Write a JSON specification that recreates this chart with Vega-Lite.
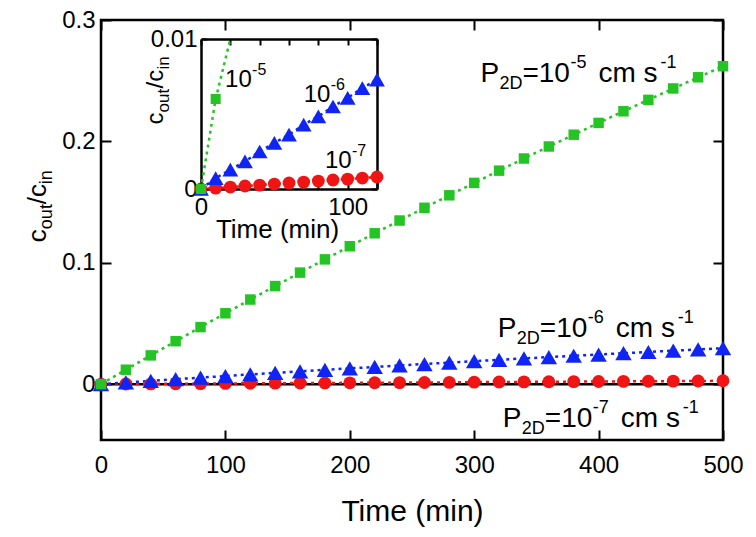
{
  "$schema": "https://vega.github.io/schema/vega-lite/v6.json",
  "width": 622,
  "height": 420,
  "autosize": {"type": "none"},
  "padding": {"left": 101, "top": 20, "right": 33, "bottom": 97},
  "background": "white",
  "config": {
    "view": {"stroke": "black", "strokeWidth": 2.5},
    "font": "Liberation Sans",
    "axis": {"grid": false, "domain": false, "tickColor": "black", "tickWidth": 2, "labelColor": "black", "titleColor": "black", "labelFont": "Liberation Sans", "titleFont": "Liberation Sans", "titleFontWeight": "normal", "domainColor": "black", "domainWidth": 2.5, "labelFlush": false, "labelOverlap": false},
    "text": {"font": "Liberation Sans", "color": "black"}
  },
  "datasets": {
    "main": [
      {"s": "1e-7", "t": 0, "c": 0}, {"s": "1e-7", "t": 20, "c": 0.0001}, {"s": "1e-7", "t": 40, "c": 0.0002}, {"s": "1e-7", "t": 60, "c": 0.0003}, {"s": "1e-7", "t": 80, "c": 0.0004}, {"s": "1e-7", "t": 100, "c": 0.0006}, {"s": "1e-7", "t": 120, "c": 0.0007}, {"s": "1e-7", "t": 140, "c": 0.0008}, {"s": "1e-7", "t": 160, "c": 0.0009}, {"s": "1e-7", "t": 180, "c": 0.001}, {"s": "1e-7", "t": 200, "c": 0.0011}, {"s": "1e-7", "t": 220, "c": 0.0012}, {"s": "1e-7", "t": 240, "c": 0.0013}, {"s": "1e-7", "t": 260, "c": 0.0014}, {"s": "1e-7", "t": 280, "c": 0.0015}, {"s": "1e-7", "t": 300, "c": 0.0017}, {"s": "1e-7", "t": 320, "c": 0.0018}, {"s": "1e-7", "t": 340, "c": 0.0019}, {"s": "1e-7", "t": 360, "c": 0.002}, {"s": "1e-7", "t": 380, "c": 0.0021}, {"s": "1e-7", "t": 400, "c": 0.0022}, {"s": "1e-7", "t": 420, "c": 0.0023}, {"s": "1e-7", "t": 440, "c": 0.0024}, {"s": "1e-7", "t": 460, "c": 0.0025}, {"s": "1e-7", "t": 480, "c": 0.0026}, {"s": "1e-7", "t": 500, "c": 0.0028},
      {"s": "1e-6", "t": 0, "c": 0}, {"s": "1e-6", "t": 20, "c": 0.0014}, {"s": "1e-6", "t": 40, "c": 0.0027}, {"s": "1e-6", "t": 60, "c": 0.0041}, {"s": "1e-6", "t": 80, "c": 0.0054}, {"s": "1e-6", "t": 100, "c": 0.0067}, {"s": "1e-6", "t": 120, "c": 0.008}, {"s": "1e-6", "t": 140, "c": 0.0093}, {"s": "1e-6", "t": 160, "c": 0.0106}, {"s": "1e-6", "t": 180, "c": 0.0118}, {"s": "1e-6", "t": 200, "c": 0.013}, {"s": "1e-6", "t": 220, "c": 0.0142}, {"s": "1e-6", "t": 240, "c": 0.0154}, {"s": "1e-6", "t": 260, "c": 0.0166}, {"s": "1e-6", "t": 280, "c": 0.0178}, {"s": "1e-6", "t": 300, "c": 0.0189}, {"s": "1e-6", "t": 320, "c": 0.0201}, {"s": "1e-6", "t": 340, "c": 0.0212}, {"s": "1e-6", "t": 360, "c": 0.0223}, {"s": "1e-6", "t": 380, "c": 0.0234}, {"s": "1e-6", "t": 400, "c": 0.0244}, {"s": "1e-6", "t": 420, "c": 0.0255}, {"s": "1e-6", "t": 440, "c": 0.0265}, {"s": "1e-6", "t": 460, "c": 0.0276}, {"s": "1e-6", "t": 480, "c": 0.0286}, {"s": "1e-6", "t": 500, "c": 0.0296},
      {"s": "1e-5", "t": 0, "c": 0}, {"s": "1e-5", "t": 20, "c": 0.0119}, {"s": "1e-5", "t": 40, "c": 0.0237}, {"s": "1e-5", "t": 60, "c": 0.0354}, {"s": "1e-5", "t": 80, "c": 0.047}, {"s": "1e-5", "t": 100, "c": 0.0584}, {"s": "1e-5", "t": 120, "c": 0.0697}, {"s": "1e-5", "t": 140, "c": 0.0808}, {"s": "1e-5", "t": 160, "c": 0.0919}, {"s": "1e-5", "t": 180, "c": 0.1028}, {"s": "1e-5", "t": 200, "c": 0.1136}, {"s": "1e-5", "t": 220, "c": 0.1243}, {"s": "1e-5", "t": 240, "c": 0.1348}, {"s": "1e-5", "t": 260, "c": 0.1453}, {"s": "1e-5", "t": 280, "c": 0.1556}, {"s": "1e-5", "t": 300, "c": 0.1658}, {"s": "1e-5", "t": 320, "c": 0.1759}, {"s": "1e-5", "t": 340, "c": 0.1859}, {"s": "1e-5", "t": 360, "c": 0.1958}, {"s": "1e-5", "t": 380, "c": 0.2055}, {"s": "1e-5", "t": 400, "c": 0.2152}, {"s": "1e-5", "t": 420, "c": 0.2248}, {"s": "1e-5", "t": 440, "c": 0.2342}, {"s": "1e-5", "t": 460, "c": 0.2436}, {"s": "1e-5", "t": 480, "c": 0.2528}, {"s": "1e-5", "t": 500, "c": 0.2619}
    ],
    "inset": [
      {"s": "1e-7", "t": 0, "c": 0}, {"s": "1e-7", "t": 10, "c": 0.00006}, {"s": "1e-7", "t": 20, "c": 0.00013}, {"s": "1e-7", "t": 30, "c": 0.0002}, {"s": "1e-7", "t": 40, "c": 0.00026}, {"s": "1e-7", "t": 50, "c": 0.00033}, {"s": "1e-7", "t": 60, "c": 0.0004}, {"s": "1e-7", "t": 70, "c": 0.00046}, {"s": "1e-7", "t": 80, "c": 0.00053}, {"s": "1e-7", "t": 90, "c": 0.0006}, {"s": "1e-7", "t": 100, "c": 0.00066}, {"s": "1e-7", "t": 110, "c": 0.00073}, {"s": "1e-7", "t": 120, "c": 0.0008},
      {"s": "1e-6", "t": 0, "c": 0}, {"s": "1e-6", "t": 10, "c": 0.00073}, {"s": "1e-6", "t": 20, "c": 0.00129}, {"s": "1e-6", "t": 30, "c": 0.00184}, {"s": "1e-6", "t": 40, "c": 0.0025}, {"s": "1e-6", "t": 50, "c": 0.00307}, {"s": "1e-6", "t": 60, "c": 0.00362}, {"s": "1e-6", "t": 70, "c": 0.00429}, {"s": "1e-6", "t": 80, "c": 0.00484}, {"s": "1e-6", "t": 90, "c": 0.0055}, {"s": "1e-6", "t": 100, "c": 0.00607}, {"s": "1e-6", "t": 110, "c": 0.00673}, {"s": "1e-6", "t": 120, "c": 0.00729},
      {"s": "1e-5", "t": 0, "c": 0}, {"s": "1e-5", "t": 10, "c": 0.006}, {"s": "1e-5", "t": 20, "c": 0.0119}
    ],
    "mainAnn": [
      {"t": 305, "c": 0.249, "e": "-5"},
      {"t": 319, "c": 0.039, "e": "-6"},
      {"t": 323, "c": -0.035, "e": "-7"}
    ],
    "insetAnn": [
      {"t": 16.4, "c": 0.0068, "e": "-5"},
      {"t": 70, "c": 0.0058, "e": "-6"},
      {"t": 84.5, "c": 0.0014, "e": "-7"}
    ]
  },
  "layer": [
    {
      "layer": [
        {"data": {"values": [{}]}, "mark": {"type": "rule", "color": "black", "strokeWidth": 2.5}, "encoding": {"y": {"datum": 0, "type": "quantitative", "scale": {"domain": [-0.046, 0.3], "nice": false, "zero": false}, "axis": null}}},
        {"data": {"name": "main"}, "mark": {"type": "line", "strokeDash": [3, 4], "strokeWidth": 2.5},
         "encoding": {
           "x": {"field": "t", "type": "quantitative", "scale": {"domain": [0, 500], "nice": false, "zero": false}, "axis": null},
           "y": {"field": "c", "type": "quantitative", "scale": {"domain": [-0.046, 0.3], "nice": false, "zero": false}, "axis": null},
           "color": {"field": "s", "type": "nominal", "scale": {"domain": ["1e-7", "1e-6", "1e-5"], "range": ["#f01414", "#0f24f5", "#25c425"]}, "legend": null}
         }},
        {"data": {"name": "main"}, "transform": [{"filter": "datum.s == '1e-7'"}], "mark": {"type": "point", "shape": "circle", "size": 165, "filled": true, "opacity": 1, "color": "#f01414"},
         "encoding": {
           "x": {"field": "t", "type": "quantitative", "scale": {"domain": [0, 500], "nice": false, "zero": false},
                 "axis": {"orient": "bottom", "values": [0, 100, 200, 300, 400, 500], "format": "d", "tickSize": -10, "labelPadding": 23, "labelFontSize": 24, "title": "Time (min)", "titleFontSize": 30, "titlePadding": 19}},
           "y": {"field": "c", "type": "quantitative", "scale": {"domain": [-0.046, 0.3], "nice": false, "zero": false},
                 "axis": {"orient": "left", "values": [0, 0.1, 0.2, 0.3], "format": "~g", "tickSize": -10, "labelPadding": 16, "labelFontSize": 24, "title": null}}
         }},
        {"data": {"name": "main"}, "transform": [{"filter": "datum.s == '1e-6'"}], "mark": {"type": "point", "shape": "triangle-up", "size": 270, "filled": true, "opacity": 1, "color": "#0f24f5"},
         "encoding": {
           "x": {"field": "t", "type": "quantitative", "axis": null},
           "y": {"field": "c", "type": "quantitative", "axis": null}
         }},
        {"data": {"name": "main"}, "transform": [{"filter": "datum.s == '1e-5'"}], "mark": {"type": "point", "shape": "square", "size": 110, "filled": true, "opacity": 1, "color": "#25c425"},
         "encoding": {
           "x": {"field": "t", "type": "quantitative", "axis": null},
           "y": {"field": "c", "type": "quantitative", "axis": null}
         }},
        {"data": {"name": "main"}, "mark": {"type": "point", "opacity": 0},
         "encoding": {
           "x": {"field": "t", "type": "quantitative",
                 "axis": {"orient": "top", "values": [0, 100, 200, 300, 400, 500], "tickSize": -10, "labels": false, "title": null}},
           "y": {"field": "c", "type": "quantitative",
                 "axis": {"orient": "right", "values": [0, 0.1, 0.2, 0.3], "tickSize": -10, "labels": false, "title": null}}
         }},
        {"data": {"name": "mainAnn"}, "mark": {"type": "text", "align": "left", "baseline": "alphabetic", "fontSize": 28},
         "encoding": {"x": {"field": "t", "type": "quantitative", "axis": null}, "y": {"field": "c", "type": "quantitative", "axis": null}, "text": {"value": "P"}}},
        {"data": {"name": "mainAnn"}, "mark": {"type": "text", "align": "left", "baseline": "alphabetic", "fontSize": 18, "dx": 19, "dy": 7},
         "encoding": {"x": {"field": "t", "type": "quantitative", "axis": null}, "y": {"field": "c", "type": "quantitative", "axis": null}, "text": {"value": "2D"}}},
        {"data": {"name": "mainAnn"}, "mark": {"type": "text", "align": "left", "baseline": "alphabetic", "fontSize": 28, "dx": 42},
         "encoding": {"x": {"field": "t", "type": "quantitative", "axis": null}, "y": {"field": "c", "type": "quantitative", "axis": null}, "text": {"value": "=10"}}},
        {"data": {"name": "mainAnn"}, "mark": {"type": "text", "align": "left", "baseline": "alphabetic", "fontSize": 18, "dx": 90, "dy": -14},
         "encoding": {"x": {"field": "t", "type": "quantitative", "axis": null}, "y": {"field": "c", "type": "quantitative", "axis": null}, "text": {"field": "e"}}},
        {"data": {"name": "mainAnn"}, "mark": {"type": "text", "align": "left", "baseline": "alphabetic", "fontSize": 28, "dx": 118},
         "encoding": {"x": {"field": "t", "type": "quantitative", "axis": null}, "y": {"field": "c", "type": "quantitative", "axis": null}, "text": {"value": "cm s"}}},
        {"data": {"name": "mainAnn"}, "mark": {"type": "text", "align": "left", "baseline": "alphabetic", "fontSize": 18, "dx": 180, "dy": -14},
         "encoding": {"x": {"field": "t", "type": "quantitative", "axis": null}, "y": {"field": "c", "type": "quantitative", "axis": null}, "text": {"value": "-1"}}},
        {"data": {"values": [{}]}, "mark": {"type": "text", "align": "left", "baseline": "alphabetic", "fontSize": 26, "angle": 270},
         "encoding": {"x": {"datum": -44, "type": "quantitative", "axis": null}, "y": {"datum": 0.117, "type": "quantitative", "axis": null}, "text": {"value": "c"}}},
        {"data": {"values": [{}]}, "mark": {"type": "text", "align": "left", "baseline": "alphabetic", "fontSize": 18, "angle": 270, "dx": 13, "dy": 6},
         "encoding": {"x": {"datum": -44, "type": "quantitative", "axis": null}, "y": {"datum": 0.117, "type": "quantitative", "axis": null}, "text": {"value": "out"}}},
        {"data": {"values": [{}]}, "mark": {"type": "text", "align": "left", "baseline": "alphabetic", "fontSize": 26, "angle": 270, "dx": 38},
         "encoding": {"x": {"datum": -44, "type": "quantitative", "axis": null}, "y": {"datum": 0.117, "type": "quantitative", "axis": null}, "text": {"value": "/c"}}},
        {"data": {"values": [{}]}, "mark": {"type": "text", "align": "left", "baseline": "alphabetic", "fontSize": 18, "angle": 270, "dx": 58, "dy": 6},
         "encoding": {"x": {"datum": -44, "type": "quantitative", "axis": null}, "y": {"datum": 0.117, "type": "quantitative", "axis": null}, "text": {"value": "in"}}}
      ],
      "resolve": {"axis": {"x": "independent", "y": "independent"}}
    },
    {
      "layer": [
        {"data": {"name": "inset"}, "mark": {"type": "line", "strokeDash": [3, 4], "strokeWidth": 2.5},
         "encoding": {
           "x": {"field": "t", "type": "quantitative", "scale": {"domain": [0, 120], "range": [100, 276], "nice": false, "zero": false}, "axis": null},
           "y": {"field": "c", "type": "quantitative", "scale": {"domain": [0, 0.01], "range": [169, 19], "nice": false, "zero": false, "clamp": true}, "axis": null},
           "color": {"field": "s", "type": "nominal", "legend": null}
         }},
        {"data": {"name": "inset"}, "transform": [{"filter": "datum.s == '1e-7'"}], "mark": {"type": "point", "shape": "circle", "size": 165, "filled": true, "opacity": 1, "color": "#f01414"},
         "encoding": {
           "x": {"field": "t", "type": "quantitative", "scale": {"domain": [0, 120], "range": [100, 276], "nice": false, "zero": false},
                 "axis": {"orient": "bottom", "offset": -251, "domain": true, "values": [0, 20, 40, 60, 80, 100, 120], "labelExpr": "datum.value == 0 || datum.value == 100 ? datum.label : ''", "tickSize": -6, "labelPadding": 12, "labelFontSize": 24, "title": "Time (min)", "titleFontSize": 26, "titlePadding": -3, "titleX": 176}},
           "y": {"field": "c", "type": "quantitative", "scale": {"domain": [0, 0.01], "range": [169, 19], "nice": false, "zero": false, "clamp": true},
                 "axis": {"orient": "left", "offset": -100, "domain": true, "values": [0, 0.01], "format": "~g", "tickSize": -6, "labelPadding": 10, "labelFontSize": 24, "title": null}}
         }},
        {"data": {"name": "inset"}, "transform": [{"filter": "datum.s == '1e-6'"}], "mark": {"type": "point", "shape": "triangle-up", "size": 250, "filled": true, "opacity": 1, "color": "#0f24f5"},
         "encoding": {
           "x": {"field": "t", "type": "quantitative", "axis": null},
           "y": {"field": "c", "type": "quantitative", "axis": null}
         }},
        {"data": {"name": "inset"}, "transform": [{"filter": "datum.s == '1e-5' && datum.c <= 0.0101"}], "mark": {"type": "point", "shape": "square", "size": 100, "filled": true, "opacity": 1, "color": "#25c425"},
         "encoding": {
           "x": {"field": "t", "type": "quantitative", "axis": null},
           "y": {"field": "c", "type": "quantitative", "axis": null}
         }},
        {"data": {"name": "inset"}, "mark": {"type": "point", "opacity": 0},
         "encoding": {
           "x": {"field": "t", "type": "quantitative",
                 "axis": {"orient": "top", "offset": -19, "domain": true, "values": [0, 20, 40, 60, 80, 100, 120], "tickSize": -6, "labels": false, "title": null}},
           "y": {"field": "c", "type": "quantitative",
                 "axis": {"orient": "right", "offset": -346, "domain": true, "values": [0, 0.01], "tickSize": -6, "labels": false, "title": null}}
         }},
        {"data": {"name": "insetAnn"}, "mark": {"type": "text", "align": "left", "baseline": "alphabetic", "fontSize": 24},
         "encoding": {"x": {"field": "t", "type": "quantitative", "axis": null}, "y": {"field": "c", "type": "quantitative", "axis": null}, "text": {"value": "10"}}},
        {"data": {"name": "insetAnn"}, "mark": {"type": "text", "align": "left", "baseline": "alphabetic", "fontSize": 16, "dx": 27, "dy": -12},
         "encoding": {"x": {"field": "t", "type": "quantitative", "axis": null}, "y": {"field": "c", "type": "quantitative", "axis": null}, "text": {"field": "e"}}},
        {"data": {"values": [{}]}, "mark": {"type": "text", "align": "left", "baseline": "alphabetic", "fontSize": 24, "angle": 270},
         "encoding": {"x": {"datum": -26, "type": "quantitative", "axis": null}, "y": {"datum": 0.0043, "type": "quantitative", "axis": null}, "text": {"value": "c"}}},
        {"data": {"values": [{}]}, "mark": {"type": "text", "align": "left", "baseline": "alphabetic", "fontSize": 17, "angle": 270, "dx": 12, "dy": 6},
         "encoding": {"x": {"datum": -26, "type": "quantitative", "axis": null}, "y": {"datum": 0.0043, "type": "quantitative", "axis": null}, "text": {"value": "out"}}},
        {"data": {"values": [{}]}, "mark": {"type": "text", "align": "left", "baseline": "alphabetic", "fontSize": 24, "angle": 270, "dx": 36},
         "encoding": {"x": {"datum": -26, "type": "quantitative", "axis": null}, "y": {"datum": 0.0043, "type": "quantitative", "axis": null}, "text": {"value": "/c"}}},
        {"data": {"values": [{}]}, "mark": {"type": "text", "align": "left", "baseline": "alphabetic", "fontSize": 17, "angle": 270, "dx": 55, "dy": 6},
         "encoding": {"x": {"datum": -26, "type": "quantitative", "axis": null}, "y": {"datum": 0.0043, "type": "quantitative", "axis": null}, "text": {"value": "in"}}}
      ],
      "resolve": {"axis": {"x": "independent", "y": "independent"}}
    }
  ],
  "resolve": {"scale": {"x": "independent", "y": "independent"}}
}
